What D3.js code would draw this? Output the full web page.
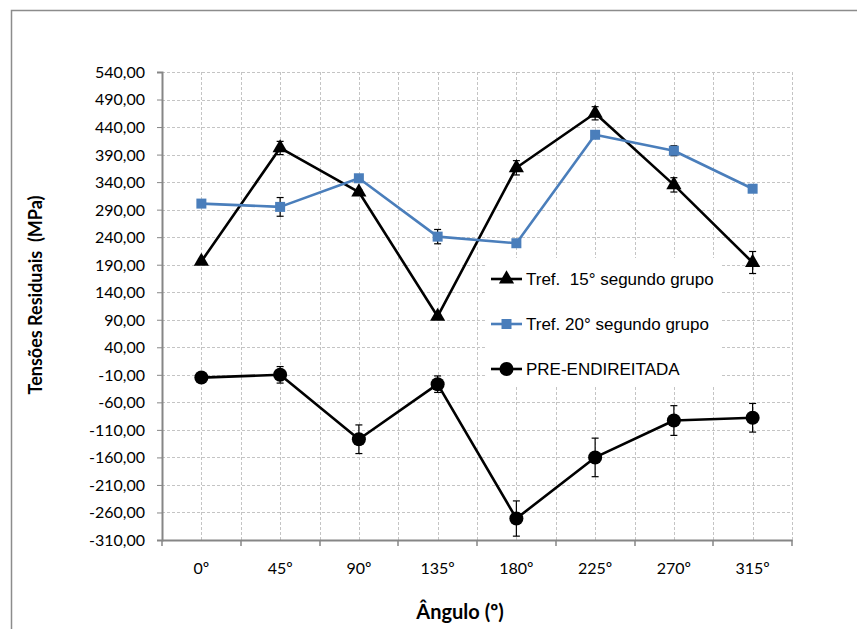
<!DOCTYPE html>
<html>
<head>
<meta charset="utf-8">
<script src="https://cdn.jsdelivr.net/npm/d3@7"></script>
<style>
  html, body { margin: 0; padding: 0; background: #fff; }
  svg { display: block; }
  text { white-space: pre; }
  .tick-label { font-family: Lato, "Open Sans", sans-serif; font-size: 16px; fill: #000; }
  .axis-title { font-family: Lato, "Open Sans", sans-serif; font-size: 18px; font-weight: bold; fill: #000; }
  .legend-text { font-family: "Liberation Sans Narrow", "Arial Narrow", sans-serif; font-stretch: condensed; font-size: 17px; fill: #000; }
</style>
</head>
<body>
<svg id="chart" width="857" height="629"></svg>
<script>
// Residual stress by measurement angle
const angles = ["0º", "45º", "90º", "135º", "180º", "225º", "270º", "315º"];

const tref15 = [196, 402, 322, 96, 366, 465, 335, 194];
const tref15Err = [4, 12, 4, 4, 13, 12, 13, 20];

const tref20 = [301, 295, 347, 241, 229, 426, 397, 328];
const tref20Err = [3, 17, 4, 13, 4, 4, 9, 3];

const preEnd = [-15, -10, -127, -27, -271, -160, -93, -88];
const preEndErr = [4, 15, 26, 15, 32, 35, 27, 26];

const yTicks = d3.range(-310, 541, 50);

const seriesNames = ["Tref.  15° segundo grupo", "Tref. 20° segundo grupo", "PRE-ENDIREITADA"];

const svg = d3.select("#chart");
const W = 857, H = 629;
const plot = { left: 162, right: 792, top: 72, bottom: 540 };

// outer chart frame
svg.append("rect")
  .attr("x", 11.5).attr("y", 10.5)
  .attr("width", W + 10).attr("height", H + 10)
  .attr("fill", "#fff").attr("stroke", "#8c8c8c").attr("stroke-width", 1.5);

const x = d3.scaleBand().domain(angles).range([plot.left, plot.right]).padding(0);
const y = d3.scaleLinear().domain([-310, 540]).range([plot.bottom, plot.top]);
const cx = d => x(d) + x.bandwidth() / 2;

const grid = svg.append("g").attr("stroke", "#c4c4c4").attr("stroke-width", 1).attr("stroke-dasharray", "3,2");

// horizontal gridlines
grid.selectAll("line.h").data(yTicks.filter(v => v > -310)).enter().append("line")
  .attr("x1", plot.left).attr("x2", plot.right)
  .attr("y1", d => Math.round(y(d)) + 0.5).attr("y2", d => Math.round(y(d)) + 0.5);

// vertical gridlines at category centres and boundaries
const vPos = [];
angles.forEach(a => { vPos.push(cx(a)); vPos.push(x(a) + x.bandwidth()); });
grid.selectAll("line.v").data(vPos).enter().append("line")
  .attr("y1", plot.top).attr("y2", plot.bottom)
  .attr("x1", d => Math.round(d) + 0.5).attr("x2", d => Math.round(d) + 0.5);

// y axis
const yAxis = d3.axisLeft(y).tickValues(yTicks).tickSize(5)
  .tickFormat(v => v.toFixed(2).replace(".", ","));
const gy = svg.append("g").attr("transform", `translate(${plot.left},0)`).call(yAxis);
gy.select(".domain").attr("stroke", "#868686").attr("stroke-width", 2);
gy.selectAll(".tick line").attr("stroke", "#868686");
gy.selectAll(".tick text").attr("class", "tick-label").attr("x", -17).attr("dy", "0.34em");

// x axis at the bottom of the value range
const xAxis = d3.axisBottom(x).tickSize(0);
const gx = svg.append("g").attr("transform", `translate(0,${plot.bottom})`).call(xAxis);
gx.select(".domain").attr("stroke", "#868686").attr("stroke-width", 2);
gx.selectAll(".tick text").attr("class", "tick-label").attr("y", 23).attr("dy", "0.71em");
// boundary tick marks
const bounds = [plot.left].concat(angles.map(a => x(a) + x.bandwidth()));
svg.append("g").selectAll("line").data(bounds).enter().append("line")
  .attr("x1", d => Math.round(d)).attr("x2", d => Math.round(d))
  .attr("y1", plot.bottom).attr("y2", plot.bottom + 6)
  .attr("stroke", "#868686").attr("stroke-width", 1.5);

// axis titles
svg.append("text").attr("class", "axis-title")
  .attr("transform", `translate(42,${(plot.top + plot.bottom) / 2 - 11}) rotate(-90)`)
  .attr("text-anchor", "middle").text("Tensões Residuais  (MPa)");
svg.append("text").attr("class", "axis-title").style("font-size", "20px")
  .attr("x", 460).attr("y", 619).attr("text-anchor", "middle").text("Ângulo (º)");

const line = d3.line().x((d, i) => cx(angles[i])).y(d => y(d));

function drawSeries(vals, errs, color, shape) {
  const g = svg.append("g");
  g.append("path").datum(vals).attr("d", line)
    .attr("fill", "none").attr("stroke", color).attr("stroke-width", 2.6).attr("stroke-linejoin", "round");
  const eb = g.append("g").attr("stroke", "#000").attr("stroke-width", 1.2);
  vals.forEach((v, i) => {
    const px = cx(angles[i]);
    const y1 = y(v + errs[i]), y2 = y(v - errs[i]);
    eb.append("line").attr("x1", px).attr("x2", px).attr("y1", y1).attr("y2", y2);
    eb.append("line").attr("x1", px - 3.5).attr("x2", px + 3.5).attr("y1", y1).attr("y2", y1);
    eb.append("line").attr("x1", px - 3.5).attr("x2", px + 3.5).attr("y1", y2).attr("y2", y2);
  });
  const sym = d3.symbol().type(shape.type).size(shape.size);
  g.selectAll("path.m").data(vals).enter().append("path")
    .attr("d", sym)
    .attr("transform", (d, i) => `translate(${cx(angles[i])},${y(d)})`)
    .attr("fill", color);
}

drawSeries(tref15, tref15Err, "#000", { type: d3.symbolTriangle, size: 100 });
drawSeries(tref20, tref20Err, "#4a7ebb", { type: d3.symbolSquare, size: 100 });
drawSeries(preEnd, preEndErr, "#000", { type: d3.symbolCircle, size: 155 });

// legend
const lg = svg.append("g");
lg.append("rect").attr("x", 486).attr("y", 258).attr("width", 234).attr("height", 128).attr("fill", "#fff");
const legendItems = [
  { name: seriesNames[0], color: "#000", type: d3.symbolTriangle, size: 100 },
  { name: seriesNames[1], color: "#4a7ebb", type: d3.symbolSquare, size: 100 },
  { name: seriesNames[2], color: "#000", type: d3.symbolCircle, size: 155 }
];
const legendY = [279, 324, 369];
legendItems.forEach((it, i) => {
  const ly = legendY[i];
  lg.append("line").attr("x1", 491).attr("x2", 522).attr("y1", ly).attr("y2", ly)
    .attr("stroke", it.color).attr("stroke-width", 2.6);
  lg.append("path").attr("d", d3.symbol().type(it.type).size(it.size)())
    .attr("transform", `translate(506.5,${ly})`).attr("fill", it.color);
  lg.append("text").attr("class", "legend-text").attr("x", 526).attr("y", ly).attr("dy", "0.35em").text(it.name);
});
</script>
</body>
</html>
